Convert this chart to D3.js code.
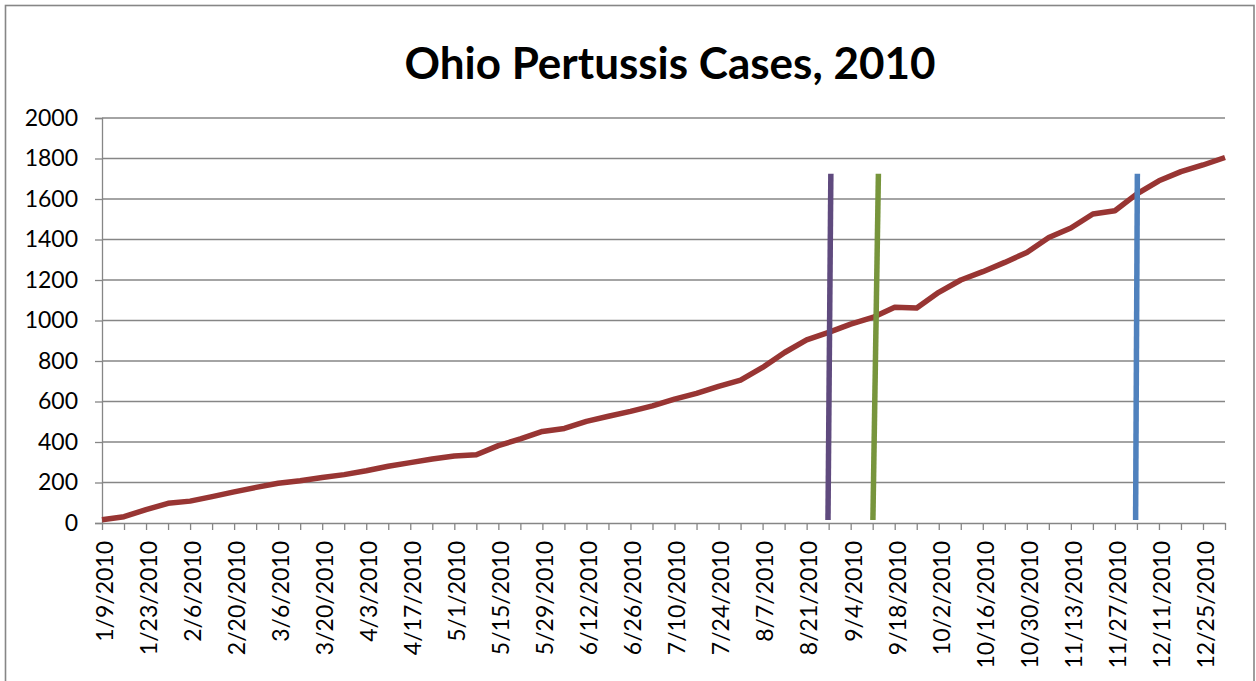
<!DOCTYPE html>
<html>
<head>
<meta charset="utf-8">
<script src="https://cdn.jsdelivr.net/npm/d3@7"></script>
<style>
  html, body { margin: 0; padding: 0; background: #fff; }
  svg { display: block; }
  text { font-family: Lato, "Open Sans", sans-serif; fill: #000; }
</style>
</head>
<body>
<svg id="chart" width="1256" height="681"></svg>
<script>
// Weekly reporting dates (week ending)
const weeks = [
  "1/9/2010","1/16/2010","1/23/2010","1/30/2010","2/6/2010","2/13/2010","2/20/2010","2/27/2010",
  "3/6/2010","3/13/2010","3/20/2010","3/27/2010","4/3/2010","4/10/2010","4/17/2010","4/24/2010",
  "5/1/2010","5/8/2010","5/15/2010","5/22/2010","5/29/2010","6/5/2010","6/12/2010","6/19/2010",
  "6/26/2010","7/3/2010","7/10/2010","7/17/2010","7/24/2010","7/31/2010","8/7/2010","8/14/2010",
  "8/21/2010","8/28/2010","9/4/2010","9/11/2010","9/18/2010","9/25/2010","10/2/2010","10/9/2010",
  "10/16/2010","10/23/2010","10/30/2010","11/6/2010","11/13/2010","11/20/2010","11/27/2010","12/4/2010",
  "12/11/2010","12/18/2010","12/25/2010","1/1/2011"
];

// Cumulative pertussis cases
const cases = [
  16, 31, 66, 97, 108, 130, 154, 176, 196, 209, 225, 239, 258, 280, 298, 316, 331, 337,
  382, 415, 452, 467, 502, 527, 551, 578, 612, 640, 675, 706, 768, 842, 904, 941, 982,
  1015, 1065, 1062, 1139, 1200, 1241, 1287, 1336, 1410, 1457, 1526, 1542, 1625, 1690, 1735, 1768, 1805
];

const yTicks = [0, 200, 400, 600, 800, 1000, 1200, 1400, 1600, 1800, 2000];

// Labelled weeks on the category axis (every second week)
const weekLabels = weeks.filter((d, i) => i % 2 === 0 && i < 51);

// Event marker lines: week position at the bottom and the top of each line
const markerBottomWeek = [32.97, 35.01, 46.94];
const markerTopWeek    = [33.10, 35.26, 47.02];
const markerLow = 15;
const markerHigh = 1725;
const markerColors = ["#5f4a7e", "#77953c", "#4f81bd"];

const svg = d3.select("#chart");
const plotLeft = 102, plotRight = 1225, plotTop = 118, plotBottom = 523;
const axisColor = "#868686";

// Chart area border
svg.append("rect")
  .attr("x", 5.5).attr("y", 5.5)
  .attr("width", 1248.5).attr("height", 700)
  .attr("fill", "#fff")
  .attr("stroke", axisColor)
  .attr("stroke-width", 1.6);

// Title
svg.append("text")
  .attr("x", 670).attr("y", 79)
  .attr("text-anchor", "middle")
  .attr("font-size", 44)
  .attr("font-weight", "bold")
  .text("Ohio Pertussis Cases, 2010");

const x = d3.scaleLinear().domain([0, weeks.length - 1]).range([plotLeft, plotRight]);
const y = d3.scaleLinear().domain([0, 2000]).range([plotBottom, plotTop]);

// Horizontal gridlines
svg.append("g")
  .selectAll("line")
  .data(yTicks.filter(d => d > 0))
  .join("line")
  .attr("x1", plotLeft).attr("x2", plotRight)
  .attr("y1", d => y(d)).attr("y2", d => y(d))
  .attr("stroke", axisColor)
  .attr("stroke-width", 1.3);

// Y axis
const yAxis = svg.append("g")
  .attr("transform", `translate(${plotLeft},0)`)
  .call(d3.axisLeft(y).tickValues(yTicks).tickSize(7).tickPadding(17).tickFormat(d3.format("d")));
yAxis.select(".domain").attr("stroke", axisColor).attr("stroke-width", 1.3);
yAxis.selectAll(".tick line").attr("stroke", axisColor).attr("stroke-width", 1.3);
yAxis.selectAll(".tick text")
  .attr("font-size", 23)
  .attr("font-family", "Lato, 'Open Sans', sans-serif")
  .attr("fill", "#000");

// X axis: a tick every week, a label every second week
const xAxis = svg.append("g")
  .attr("transform", `translate(0,${plotBottom})`)
  .call(d3.axisBottom(x)
    .tickValues(d3.range(weeks.length))
    .tickSize(7)
    .tickSizeOuter(0)
    .tickFormat(i => weekLabels.includes(weeks[i]) ? weeks[i] : ""));
xAxis.select(".domain").attr("stroke", axisColor).attr("stroke-width", 1.3);
xAxis.selectAll(".tick line").attr("stroke", axisColor).attr("stroke-width", 1.3);
xAxis.selectAll(".tick text")
  .attr("font-size", 23)
  .attr("font-family", "Lato, 'Open Sans', sans-serif")
  .attr("fill", "#000")
  .attr("text-anchor", "end")
  .attr("transform", "rotate(-90)")
  .attr("x", -18)
  .attr("y", 0)
  .attr("dy", "0.45em");

// Cases line
const line = d3.line()
  .x((d, i) => x(i))
  .y(d => y(d));

svg.append("path")
  .datum(cases)
  .attr("d", line)
  .attr("fill", "none")
  .attr("stroke", "#983533")
  .attr("stroke-width", 5.5)
  .attr("stroke-linejoin", "round");

// Event marker lines
svg.append("g")
  .selectAll("line")
  .data(markerColors)
  .join("line")
  .attr("x1", (c, i) => x(markerBottomWeek[i]))
  .attr("y1", y(markerLow))
  .attr("x2", (c, i) => x(markerTopWeek[i]))
  .attr("y2", y(markerHigh))
  .attr("stroke", c => c)
  .attr("stroke-width", 5.5);
</script>
</body>
</html>
